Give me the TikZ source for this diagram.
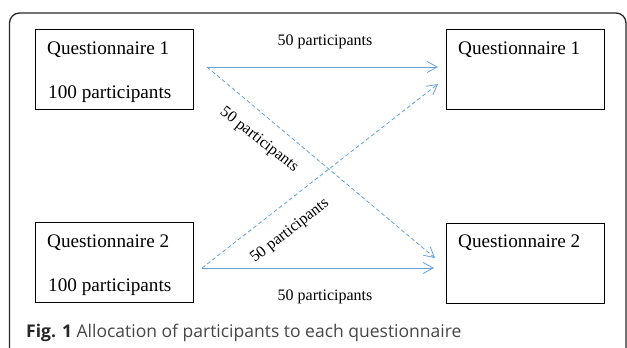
\documentclass[tikz,border=0pt]{standalone}
\usepackage{fontspec}
\setmainfont{Liberation Serif}
\newfontfamily\capfont{Open Sans}
\usetikzlibrary{arrows.meta}
\definecolor{arrowblue}{RGB}{100,162,222}
\definecolor{framegray}{RGB}{40,40,40}
\definecolor{captext}{RGB}{70,70,70}
\tikzset{
  qbox/.style={draw=black, line width=1.2pt, minimum width=158pt, minimum height=80pt, inner sep=0pt, anchor=north west},
  qtext/.style={anchor=base west, inner sep=0pt, font=\fontsize{19.2}{23}\selectfont},
  lbl/.style={inner sep=0pt, font=\fontsize{16}{19}\selectfont},
  conn/.style={draw=arrowblue, line width=0.8pt, -{Straight Barb[length=10pt,width=11pt,line width=0.8pt]}},
  dconn/.style={conn, dash pattern=on 4pt off 2.5pt},
}
\begin{document}
\begin{tikzpicture}[x=1pt,y=-1pt]
\useasboundingbox (0,0) rectangle (627,348);
% frame
\draw[framegray, line width=1.3pt, rounded corners=10pt] (9.5,360) -- (9.5,13) -- (626,13) -- (626,360);
% boxes
\node[qbox] (q1l) at (35,29) {};
\node[qbox] (q1r) at (446,29) {};
\node[qbox] (q2l) at (35,222) {};
\node[qbox] (q2r) at (446,223) {};
% box texts
\node[qtext] (t1a) at (47,54) {Questionnaire 1};
\node[qtext] (t1b) at (48,98) {100 participants};
\node[qtext] (t2a) at (458,54) {Questionnaire 1};
\node[qtext] (t3a) at (47,247) {Questionnaire 2};
\node[qtext] (t3b) at (48,291) {100 participants};
\node[qtext] (t4a) at (458,247) {Questionnaire 2};
% connector ends
\coordinate (s1) at (207,67);
\coordinate (s2) at (202,268);
\coordinate (e1) at (438,67);
\coordinate (e1d) at (438,84);
\coordinate (e2d) at (435,258);
\coordinate (e2) at (434,268);
\draw[conn] (s1) -- (e1);
\draw[dconn] (s1) -- (e2d);
\draw[conn] (s2) -- (e2);
\draw[dconn] (s2) -- (e1d);
% labels
\node[lbl] (l1) at (325,42) {50 participants};
\node[lbl] (l2) at (325,297) {50 participants};
\node[lbl, rotate=-38] (l3) at (259,140) {50 participants};
\node[lbl, rotate=38] (l4) at (290,231) {50 participants};
% caption
\node[anchor=base west, inner sep=0pt, text=captext, font=\capfont\fontsize{17.5}{20}\selectfont] (cap) at (26,337) {{\bfseries\color{black!85}Fig. 1} Allocation of participants to each questionnaire};
\end{tikzpicture}
\end{document}
